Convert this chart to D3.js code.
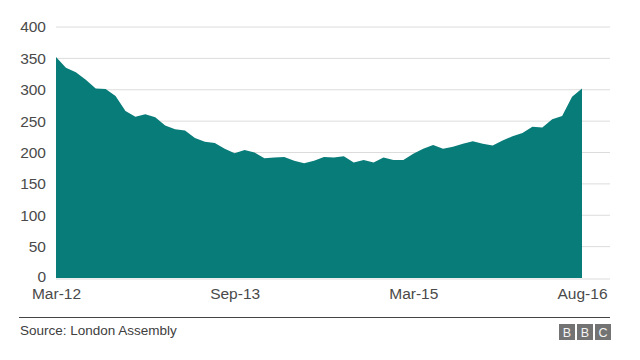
<!DOCTYPE html>
<html><head><meta charset="utf-8">
<script src="https://cdn.jsdelivr.net/npm/d3@7"></script>
<style>body{margin:0;background:#fff}svg{display:block}</style>
</head><body><svg id="c" width="640" height="360"></svg>
<script>
const months = ["Mar-12","Apr-12","May-12","Jun-12","Jul-12","Aug-12","Sep-12","Oct-12","Nov-12","Dec-12",
"Jan-13","Feb-13","Mar-13","Apr-13","May-13","Jun-13","Jul-13","Aug-13","Sep-13","Oct-13","Nov-13","Dec-13",
"Jan-14","Feb-14","Mar-14","Apr-14","May-14","Jun-14","Jul-14","Aug-14","Sep-14","Oct-14","Nov-14","Dec-14",
"Jan-15","Feb-15","Mar-15","Apr-15","May-15","Jun-15","Jul-15","Aug-15","Sep-15","Oct-15","Nov-15","Dec-15",
"Jan-16","Feb-16","Mar-16","Apr-16","May-16","Jun-16","Jul-16","Aug-16"];
const values = [352,335,328,316,302,301,290,266,257,261,256,243,237,235,223,217,215,206,199,204,200,191,192,193,187,183,187,193,192,194,184,188,184,192,188,188,198,206,212,206,209,214,218,214,211,219,226,231,241,240,253,258,289,302];
const yTicks = [0,50,100,150,200,250,300,350,400];
const xTickLabels = ["Mar-12","Sep-13","Mar-15","Aug-16"];
const source = "Source: London Assembly";

const svg = d3.select("#c");
const x = d3.scalePoint().domain(months).range([56, 582]);
const y = d3.scaleLinear().domain([0, 400]).range([278, 27]);
const font = "Liberation Sans, Arial, sans-serif";

// grid
svg.append("g").selectAll("line").data(yTicks.filter(d=>d>0)).join("line")
  .attr("x1", 56).attr("x2", 610).attr("y1", d=>y(d)).attr("y2", d=>y(d))
  .attr("stroke", "#dcdcdc").attr("stroke-width", 1);
svg.append("rect").attr("x",56).attr("y",278).attr("width",554).attr("height",2).attr("fill","#ededed");

// area
const area = d3.area().x((d,i)=>x(months[i])).y0(y(0)).y1(d=>y(d));
svg.append("path").datum(values).attr("d", area).attr("fill", "#087c79");

// y axis
const ya = svg.append("g").attr("transform","translate(46,0)")
  .call(d3.axisLeft(y).tickValues(yTicks).tickSize(0).tickPadding(0));
ya.select(".domain").remove();
ya.selectAll("text").attr("font-family", font).attr("font-size", 15.5).attr("fill", "#4a4a4a");
ya.selectAll(".tick").filter(d=>d===0).select("text").attr("dy","0.2em");

// x axis
const xa = svg.append("g").attr("transform","translate(0,288)")
  .call(d3.axisBottom(x).tickValues(xTickLabels).tickSize(0).tickPadding(0));
xa.select(".domain").remove();
xa.selectAll("text").attr("font-family", font).attr("font-size", 15.5).attr("fill", "#4a4a4a");

// footer
svg.append("line").attr("x1",19).attr("x2",610).attr("y1",317.5).attr("y2",317.5)
  .attr("stroke","#444").attr("stroke-width",1);
svg.append("text").attr("x",20).attr("y",335).text(source)
  .attr("font-family", font).attr("font-size", 13.5).attr("fill", "#404040");
const bbc = svg.append("g");
["B","B","C"].forEach((l,i)=>{
  const bx = 559 + i*18;
  bbc.append("rect").attr("x",bx).attr("y",324).attr("width",16).attr("height",16).attr("fill","#737373");
  bbc.append("text").attr("x",bx+8).attr("y",336.5).attr("text-anchor","middle").text(l)
    .attr("font-family", font).attr("font-size",12.5).attr("fill","#f4f4f4");
});
</script></body></html>
